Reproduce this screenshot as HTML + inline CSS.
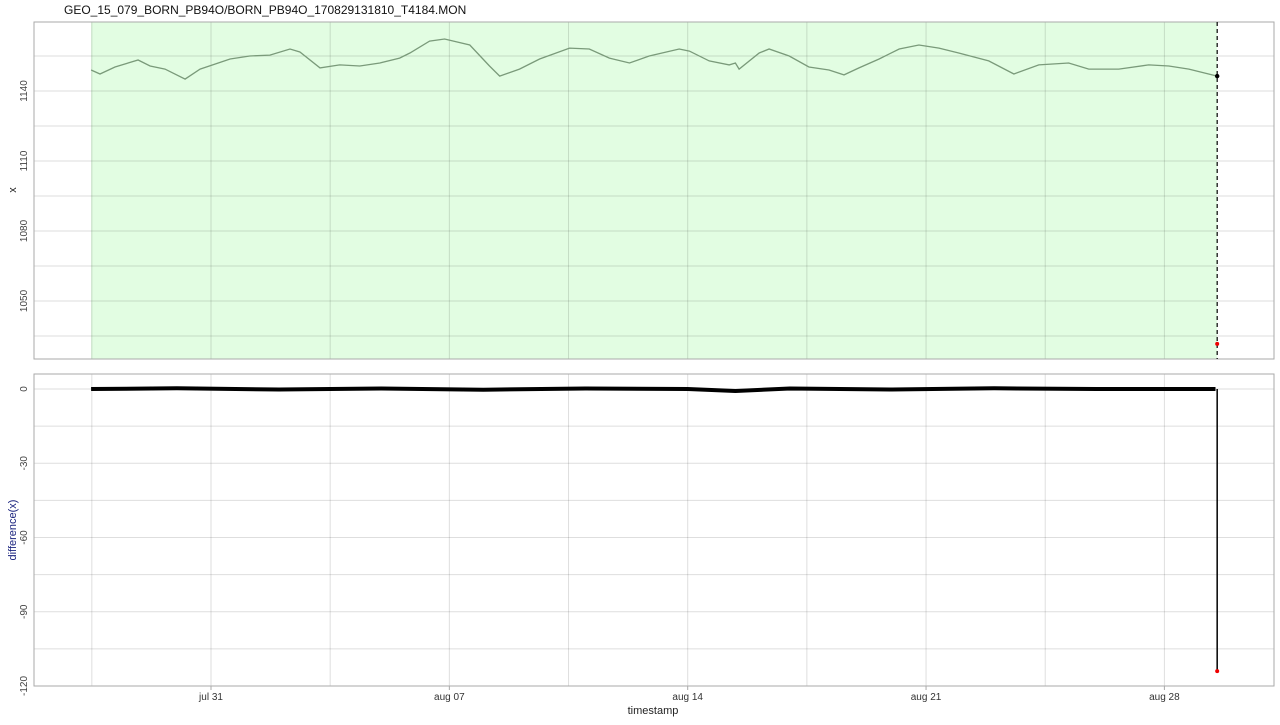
<!DOCTYPE html>
<html><head><meta charset="utf-8"><style>
body{margin:0;background:#fff;font-family:"Liberation Sans",sans-serif}
svg text{font-family:"Liberation Sans",sans-serif}
</style></head><body>
<svg id="c" width="1280" height="720" xmlns="http://www.w3.org/2000/svg">
<text x="64" y="14" font-size="12" fill="#111">GEO_15_079_BORN_PB94O/BORN_PB94O_170829131810_T4184.MON</text>
<g id="gtop"></g>
<g id="gbot"></g>
<text x="653" y="714" font-size="11" text-anchor="middle" fill="#222">timestamp</text>
<text transform="translate(16,190) rotate(-90)" font-size="11" text-anchor="middle" fill="#222">x</text>
<text transform="translate(16,530) rotate(-90)" font-size="11" text-anchor="middle" fill="#1a237e">difference(x)</text>
</svg>
<script>
// days since jul 31 00:00
const days=[-3.52,-3.26,-2.82,-2.14,-1.79,-1.35,-0.76,-0.32,0.56,1.14,1.73,2.32,2.61,3.20,3.78,4.37,4.96,5.54,5.84,6.42,6.86,7.60,8.18,8.48,9.06,9.65,10.53,11.11,11.70,12.29,12.87,13.75,14.05,14.63,15.22,15.40,15.51,16.10,16.39,16.98,17.56,18.15,18.59,19.03,19.62,20.21,20.79,21.38,21.96,22.84,23.58,24.31,25.19,25.78,26.66,27.54,28.13,28.72,29.55];
const xvals=[1149.0,1147.3,1150.3,1153.3,1150.7,1149.4,1145.1,1149.4,1153.7,1155.0,1155.4,1158.0,1156.7,1149.9,1151.2,1150.7,1152.0,1154.1,1156.3,1161.4,1162.3,1159.7,1150.7,1146.4,1149.4,1153.7,1158.4,1158.0,1154.1,1152.0,1155.0,1158.0,1157.1,1152.9,1151.2,1152.0,1149.4,1156.3,1158.0,1155.0,1150.3,1149.0,1146.9,1149.9,1153.7,1158.0,1159.7,1158.4,1156.3,1152.9,1147.3,1151.2,1152.0,1149.4,1149.4,1151.2,1150.7,1149.4,1146.4];
const topTicks=[1050,1080,1110,1140];
const botTicks=[-120,-90,-60,-30,0];
const xTickDays=[0,7,14,21,28];
const xTickLabels=["jul 31","aug 07","aug 14","aug 21","aug 28"];
const diffDays=[-3.52,-1.0,2.0,5.0,8.0,11.0,14.0,15.4,17.0,20.0,23.0,26.0,29.5];
const diffVals=[0,0.3,-0.2,0.2,-0.3,0.2,0,-0.8,0.2,-0.2,0.3,0,0];
const lastDiff=-114, outlier=1031.6;

const NS="http://www.w3.org/2000/svg";
const L=34,R=1274;
const X=d=>211+d*34.05;
const Yt=v=>91-(v-1140)*2.333;
const Yb=v=>389-v*2.475;
function el(p,t,a){const e=document.createElementNS(NS,t);for(const k in a)e.setAttribute(k,a[k]);p.appendChild(e);return e;}
const gTop=document.getElementById('gtop'),gBot=document.getElementById('gbot');
function panel(g,y0,y1){
  const bg=el(g,'rect',{x:L,y:y0,width:R-L,height:y1-y0,fill:'#fff'});
  
  
  return bg;
}
panel(gTop,22,359);
const shade=el(gTop,'rect',{x:X(days[0]),y:22,width:X(days[days.length-1])-X(days[0]),height:337,fill:'#e2fde2'});


function grids(g,y0,y1,yfun,lo,hi,step,ticks){
  for(let v=lo;v<=hi;v+=step){const y=yfun(v);if(y<y0||y>y1)continue;
    const ln=el(g,'line',{x1:L,x2:R,y1:y,y2:y,stroke:'rgba(0,0,0,0.13)','stroke-width':1});
    
    }
  for(let d=-3.5;d<=31;d+=3.5){const x=X(d);if(x<L||x>R)continue;
    const ln=el(g,'line',{x1:x,x2:x,y1:y0,y2:y1,stroke:'rgba(0,0,0,0.13)','stroke-width':1});
    
    }
  ticks.forEach(v=>{const y=yfun(v);
    const t=el(g,'text',{transform:`translate(27,${y}) rotate(-90)`,'font-size':10,'text-anchor':'middle',fill:'#444'});
    t.textContent=v;
    
    });
  const fr=el(g,'rect',{x:L,y:y0,width:R-L,height:y1-y0,fill:'none',stroke:'#aaa','stroke-width':1});
  
  
}
grids(gTop,22,359,Yt,1020,1170,15,topTicks);
let d='';days.forEach((t,i)=>{d+=(i?'L':'M')+X(t).toFixed(1)+','+Yt(xvals[i]).toFixed(1);});
const line=el(gTop,'path',{d:d,fill:'none',stroke:'#7a9a7a','stroke-width':1.3});


const xe=X(days[days.length-1]);
const dash=el(gTop,'line',{x1:xe,x2:xe,y1:22,y2:359,stroke:'#000','stroke-width':1.2,'stroke-dasharray':'4,3'});


const lp=el(gTop,'circle',{cx:xe,cy:Yt(xvals[xvals.length-1]),r:2.2,fill:'#000'});


const op=el(gTop,'circle',{cx:xe,cy:Yt(outlier),r:2,fill:'#e00'});



panel(gBot,374,686);
grids(gBot,374,686,Yb,-120,0,15,botTicks);
let d2='';diffDays.forEach((t,i)=>{d2+=(i?'L':'M')+X(t).toFixed(1)+','+Yb(diffVals[i]).toFixed(1);});
const dl=el(gBot,'path',{d:d2,fill:'none',stroke:'#000','stroke-width':4});


const drop=el(gBot,'line',{x1:xe,x2:xe,y1:Yb(0),y2:Yb(lastDiff),stroke:'#000','stroke-width':1.5});


const dp=el(gBot,'circle',{cx:xe,cy:Yb(lastDiff),r:2,fill:'#e00'});


xTickDays.forEach((t,i)=>{const x=X(t);
  const tk=el(gBot,'line',{x1:x,x2:x,y1:686,y2:690,stroke:'#aaa'});
  
  
  const tx=el(gBot,'text',{x:x,y:700,'font-size':10,'text-anchor':'middle',fill:'#333'});
  tx.textContent=xTickLabels[i];
  
  });
</script>
</body></html>
